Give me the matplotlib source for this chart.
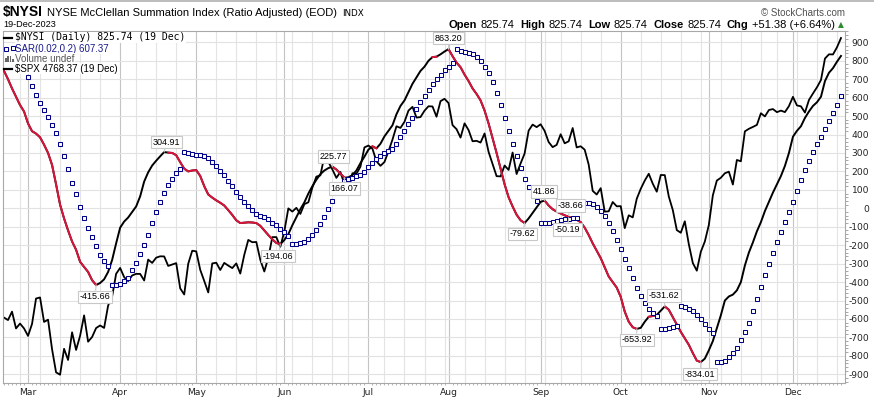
import matplotlib
matplotlib.use("Agg")
import matplotlib.pyplot as plt
from matplotlib.lines import Line2D
from matplotlib.patches import Rectangle
from matplotlib.ticker import NullLocator, FixedLocator, MultipleLocator
import numpy as np
import pandas as pd

plt.rcParams["axes.unicode_minus"] = False

# --------------------------------------------------
# Data (one value per trading day)
# --------------------------------------------------
start_date = "2023-02-21"
end_date = "2023-12-19"
holidays = ["2023-04-07", "2023-05-29", "2023-06-19", "2023-07-04",
            "2023-09-04", "2023-11-23"]

nan = np.nan

nysi = [
    # Feb
    745, 700, 650, 605, 560, 525,
    # Mar
    460, 418, 405, 385, 345, 300, 235, 130, 20, -55, -120, -180, -225, -290,
    -318, -345, -390, -416, -405, -385, -345, -280, -190,
    # Apr
    -105, -72, -50, -20, 10, 65, 145, 195, 232, 258, 282, 305, 302, 300, 288,
    250, 215, 200, 205,
    # May
    207, 175, 120, 75, 58, 43, 30, 15, -10, -36, -65, -80, -78, -76, -77, -80,
    -95, -120, -145, -168, -188, -194,
    # Jun
    -172, -140, -92, -48, -5, 32, 80, 120, 155, 185, 205, 218, 226, 210, 188,
    166, 168, 180, 205, 245, 280,
    # Jul
    318, 336, 325, 350, 390, 420, 450, 510, 555, 585, 630, 675, 710, 745, 768,
    800, 820, 822, 835, 850,
    # Aug
    863, 825, 790, 765, 725, 690, 650, 620, 585, 530, 460, 380, 300, 215, 130,
    60, 10, -35, -65, -80, -55, -25, 5,
    # Sep
    35, 42, 15, -5, -18, -28, -38, -46, -55, -62, -75, -105, -145, -190, -230,
    -270, -320, -370, -400, -430,
    # Oct
    -480, -560, -615, -645, -654, -648, -615, -588, -584, -578, -555, -532,
    -550, -590, -630, -670, -705, -740, -785, -826, -834, -815,
    # Nov
    -770, -720, -650, -580, -500, -478, -468, -445, -400, -310, -240, -185,
    -125, -75, -15, 35, 85, 130, 175, 230, 300,
    # Dec
    388, 420, 445, 490, 525, 555, 575, 605, 690, 735, 760, 795, 826,
]

sar = [
    # Feb
    nan, nan, nan, nan, nan, nan,
    # Mar
    714, 663, 613, 569, 531, 493, 450, 406, 347, 282, 211, 139, 76, 9, -54,
    -109, -157, -204, -253, -286, -314, -416, -416,
    # Apr
    -412, -394, -380, -335, -298, -248, -199, -145, -82, -22, 32, 81, 126, 159,
    190, 213, 305, 300, 293,
    # May
    287, 287, 284, 275, 250, 227, 204, 179, 150, 119, 87, 59, 32, 11, -11, -29,
    -40, -49, -60, -78, -92, -114,
    # Jun
    -129, -150, -194, -193, -190, -185, -166, -147, -119, -87, -49, -4, 38,
    nan, nan, 150, 159, 166, 175, 181, 195,
    # Jul
    222, 244, 266, 284, 300, 311, 323, 347, 387, 419, 455, 491, 538, 577, 610,
    640, 672, 699, 723, 748,
    # Aug
    768, 786, 862, 855, 849, 844, 835, 822, 797, 764, 732, 683, 623, 560, 488,
    419, 347, 284, 218, 157, 114, 68, 38,
    # Sep
    -80, -81, -78, -74, -71, -65, -60, -56, -54, -54, nan, 30, 27, 21, 9, -13,
    -42, -80, -121, -172,
    # Oct
    -220, -273, -325, -379, -430, -476, -515, -546, -570, -586, -654, -652,
    -648, -643, -637, -532, -536, -548, -559, -577, -602, -629,
    # Nov
    -656, -676, -834, -834, -829, -808, -786, -756, -714, -672, -624, -557,
    -492, -429, -363, -304, -244, -184, -130, -76, -22,
    # Dec
    32, 92, 152, 206, 255, 304, 347, 388, 428, 472, 515, 558, 607,
]

spx = [
    # Feb
    3997.34, 3991.05, 4012.32, 3970.04, 3982.24, 3970.15,
    # Mar
    3951.39, 3981.35, 4045.64, 4048.42, 3986.37, 3992.01, 3918.32, 3861.59,
    3855.76, 3919.29, 3891.93, 3960.28, 3916.64, 3951.57, 4002.87, 3936.97,
    3948.72, 3970.99, 3977.53, 3971.27, 4027.81, 4050.83, 4109.31,
    # Apr
    4124.51, 4100.60, 4090.38, 4105.02, 4109.11, 4108.94, 4091.95, 4146.22,
    4137.64, 4151.32, 4154.87, 4154.52, 4129.79, 4133.52, 4137.04, 4071.63,
    4055.99, 4135.35, 4169.48,
    # May
    4167.87, 4119.58, 4090.75, 4061.22, 4136.25, 4138.12, 4119.17, 4137.64,
    4130.62, 4124.08, 4136.28, 4109.90, 4158.77, 4198.05, 4191.98, 4192.63,
    4145.58, 4115.24, 4151.28, 4205.45, 4205.52, 4179.83,
    # Jun
    4221.02, 4282.37, 4273.79, 4283.85, 4267.52, 4293.93, 4298.86, 4338.93,
    4369.01, 4372.59, 4425.84, 4409.59, 4388.71, 4365.69, 4381.89, 4348.33,
    4328.82, 4378.41, 4376.86, 4396.44, 4450.38,
    # Jul
    4455.59, 4446.82, 4411.59, 4398.95, 4409.53, 4439.26, 4472.16, 4510.04,
    4505.42, 4522.79, 4554.98, 4565.72, 4534.87, 4536.34, 4554.64, 4567.46,
    4566.75, 4537.41, 4582.23, 4588.96,
    # Aug
    4576.73, 4513.39, 4501.89, 4478.03, 4518.44, 4499.38, 4467.71, 4468.83,
    4464.05, 4489.72, 4437.86, 4404.33, 4370.36, 4369.71, 4399.77, 4387.55,
    4436.01, 4376.31, 4405.71, 4433.31, 4497.63, 4514.87, 4507.66,
    # Sep
    4515.77, 4496.83, 4465.48, 4451.14, 4457.49, 4487.46, 4461.90, 4467.44,
    4505.10, 4450.32, 4453.53, 4443.95, 4402.20, 4330.00, 4320.06, 4337.44,
    4273.53, 4274.51, 4299.70, 4288.05,
    # Oct
    4288.39, 4229.45, 4263.75, 4258.19, 4308.50, 4335.66, 4358.24, 4376.95,
    4349.61, 4327.78, 4373.63, 4373.20, 4314.60, 4278.00, 4224.16, 4217.04,
    4247.68, 4186.77, 4137.23, 4117.37, 4166.82, 4193.80,
    # Nov
    4237.86, 4317.78, 4358.34, 4365.98, 4378.38, 4382.78, 4347.35, 4415.24,
    4411.55, 4495.70, 4502.88, 4508.24, 4514.02, 4547.38, 4538.19, 4556.62,
    4559.34, 4550.43, 4554.89, 4550.58, 4567.80,
    # Dec
    4594.63, 4569.78, 4567.18, 4549.34, 4585.59, 4604.37, 4622.44, 4643.70,
    4707.09, 4719.55, 4719.19, 4740.56, 4768.37,
]

# stretches where the $NYSI line is drawn red (start day, end day)
red_spans = [(0, 23), (41, 69), (82, 85), (92, 93), (107, 108),
             (111, 130), (135, 158), (161, 163), (165, 174)]

# turning point labels
label_days = [40, 23, 82, 85, 69, 111, 135, 130, 141, 141, 158, 165, 174]
label_values = [304.91, -415.66, 225.77, 166.07, -194.06, 863.20, 41.86,
                -79.62, -38.66, -50.19, -653.92, -531.62, -834.01]

y_ticks = list(range(-900, 1000, 100))

dates = pd.bdate_range(start_date, end_date, freq="C", holidays=holidays)
days = np.arange(len(dates))
nysi = np.array(nysi, dtype=float)
sar = np.array(sar, dtype=float)
spx = np.array(spx, dtype=float)

# --------------------------------------------------
# Figure
# --------------------------------------------------
W, H = 874, 399
fig = plt.figure(figsize=(W / 100, H / 100), dpi=100)


def fx(x):
    return x / W


def fy(y):
    return 1 - y / H


left, right, top, bottom = 3, 845, 31, 383
ax = fig.add_axes([fx(left), fy(bottom), (right - left) / W, (bottom - top) / H])
ax2 = ax.twinx()
ax.set_zorder(2)
ax2.set_zorder(1)
ax.patch.set_visible(False)
ax2.patch.set_facecolor("white")

# grid on the lower axes
month_starts = [i for i in range(1, len(dates)) if dates[i].month != dates[i - 1].month]
week_starts = [i for i in range(1, len(dates))
               if dates[i].weekday() < dates[i - 1].weekday() and i not in month_starts]
for i in week_starts:
    ax2.axvline(i, color="#e4e4e4", lw=0.8, zorder=0)
for i in month_starts:
    ax2.axvline(i, color="#c4c4c4", lw=0.8, zorder=0)
ax2.hlines(y_ticks, 0, 1, transform=ax.get_yaxis_transform(),
           colors="#e2e2e2", lw=0.8, zorder=0)

# $SPX overlay (log scale)
ax2.plot(days, spx, color="black", lw=1.3, zorder=2)
ax2.set_yscale("log")
ax2.set_ylim(3835.7, 4789.5)
ax2.yaxis.set_major_locator(NullLocator())
ax2.yaxis.set_minor_locator(NullLocator())
for s in ax2.spines.values():
    s.set_visible(False)

# $NYSI line, red in down stretches
ax.plot(days, nysi, color="black", lw=1.4, zorder=3)
for a, b in red_spans:
    ax.plot(days[a:b + 1], nysi[a:b + 1], color="#dc143c", lw=1.4, zorder=3)

# SAR dots
ax.plot(days, sar, ls="none", marker="s", ms=2.3, mfc="white",
        mec="#00008b", mew=0.75, zorder=4)

# labels
label_offsets = [(2, 10), (-1, -12), (1, 10), (0, -11), (-2, -12), (0, 11),
                 (-1, 9), (-2, -11), (2, 10), (-1, -12), (0, -11), (-1, 11),
                 (-1, -12)]
for d, v, (dx, dy) in zip(label_days, label_values, label_offsets):
    ax.annotate(f"{v:.2f}", xy=(d, v), xytext=(dx, dy), textcoords="offset pixels",
                ha="center", va="center", fontsize=6.5, family="Liberation Sans",
                color="black", zorder=6,
                bbox=dict(boxstyle="square,pad=0.2", fc="white", ec="#c8c8c8", lw=0.8),
                arrowprops=dict(arrowstyle="-", color="#c8c8c8", lw=0.8,
                                shrinkA=0, shrinkB=0))

ax.set_xlim(-0.25, 210.0)
ax.set_ylim(-947.2, 961.3)

# axes
ax.yaxis.tick_right()
ax.set_yticks(y_ticks)
ax.set_yticklabels([str(t) for t in y_ticks])
ax.yaxis.set_minor_locator(MultipleLocator(20))
ax.tick_params(axis="y", which="major", length=0, pad=17.3, labelsize=6.6,
               labelcolor="#222222")
ax.tick_params(axis="y", which="minor", length=1.8, width=0.6, color="#999999")
for lbl in ax.get_yticklabels():
    lbl.set_horizontalalignment("right")

ax.set_xticks(month_starts)
ax.set_xticklabels([dates[i].strftime("%b") for i in month_starts])
ax.xaxis.set_minor_locator(FixedLocator(days))
ax.tick_params(axis="x", which="major", length=0, pad=3.5, labelsize=6.6,
               labelcolor="#222222")
ax.tick_params(axis="x", which="minor", length=1.6, width=0.6, color="#aaaaaa")
for s in ax.spines.values():
    s.set_color("#a8a8a8")
    s.set_linewidth(0.8)

# --------------------------------------------------
# Header
# --------------------------------------------------
renderer = fig.canvas.get_renderer()
fig.add_artist(Line2D([0, 1], [fy(0.5), fy(0.5)], transform=fig.transFigure,
                      color="#b0b0b0", lw=1.2))

x = 3
for s, kw, gap in [("$NYSI", dict(fontsize=10, fontweight="bold", family="Liberation Sans"), 4),
                   ("NYSE McClellan Summation Index (Ratio Adjusted) (EOD)",
                    dict(fontsize=8, family="Liberation Sans"), 5),
                   ("INDX", dict(fontsize=6.3, family="DejaVu Sans"), 0)]:
    t = fig.text(fx(x), fy(16), s, ha="left", va="baseline", color="black", **kw)
    x += t.get_window_extent(renderer).width + gap

fig.text(fx(3), fy(27.3), "19-Dec-2023", ha="left", va="baseline", fontsize=6.6,
         family="Liberation Sans", color="black")
fig.text(fx(845), fy(15.5), "\u00a9 StockCharts.com", ha="right", va="baseline",
         fontsize=7, family="Liberation Sans", color="#505050")

pieces = [("Open", True), ("825.74", False), ("High", True), ("825.74", False),
          ("Low", True), ("825.74", False), ("Close", True), ("825.74", False),
          ("Chg", True), ("+51.38 (+6.64%)", False)]
x = 835
for s, b in reversed(pieces):
    t = fig.text(fx(x), fy(28), s, ha="right", va="baseline", fontsize=8,
                 fontweight="bold" if b else "normal", family="Liberation Sans",
                 color="black")
    x -= t.get_window_extent(renderer).width + (6 if b else 3.3)
fig.text(fx(838), fy(27.5), "\u25b2", ha="left", va="baseline", fontsize=5.5,
         color="#2e8b2e", family="DejaVu Sans")

# --------------------------------------------------
# Legend inside the chart
# --------------------------------------------------
white = dict(boxstyle="square,pad=0.05", fc="white", ec="none")
fig.text(fx(15), fy(40.5), "$NYSI (Daily) 825.74 (19 Dec)", ha="left", va="baseline",
         fontsize=7, family="DejaVu Sans Mono", color="black", bbox=white, zorder=5)
fig.text(fx(15), fy(51.5), "SAR(0.02,0.2) 607.37", ha="left", va="baseline",
         fontsize=7, family="Liberation Sans", color="#1a1a8c", bbox=white, zorder=5)
fig.text(fx(15), fy(61.5), "Volume undef", ha="left", va="baseline",
         fontsize=7, family="Liberation Sans", color="#555555", bbox=white, zorder=5)
fig.text(fx(15), fy(71.5), "$SPX 4768.37 (19 Dec)", ha="left", va="baseline",
         fontsize=7, family="Liberation Sans", color="black", bbox=white, zorder=5)

for yy in (37.5, 68.5):
    fig.add_artist(Line2D([fx(4), fx(12)], [fy(yy), fy(yy)], transform=fig.transFigure,
                          color="black", lw=1.6, zorder=6))
fig.add_artist(Line2D([fx(6), fx(12.7)], [fy(48.5), fy(47.5)], transform=fig.transFigure,
                      ls="none", marker="s", ms=2.2, mfc="white", mec="#00008b",
                      mew=0.75, zorder=6))
for bx, bh in [(5, 4), (7.3, 6), (9.6, 5), (11.9, 3)]:
    fig.add_artist(Rectangle((fx(bx), fy(61.5)), 1.6 / W, bh / H,
                             transform=fig.transFigure, fc="#666666", ec="none", zorder=6))

fig.savefig("out.png", dpi=100)
